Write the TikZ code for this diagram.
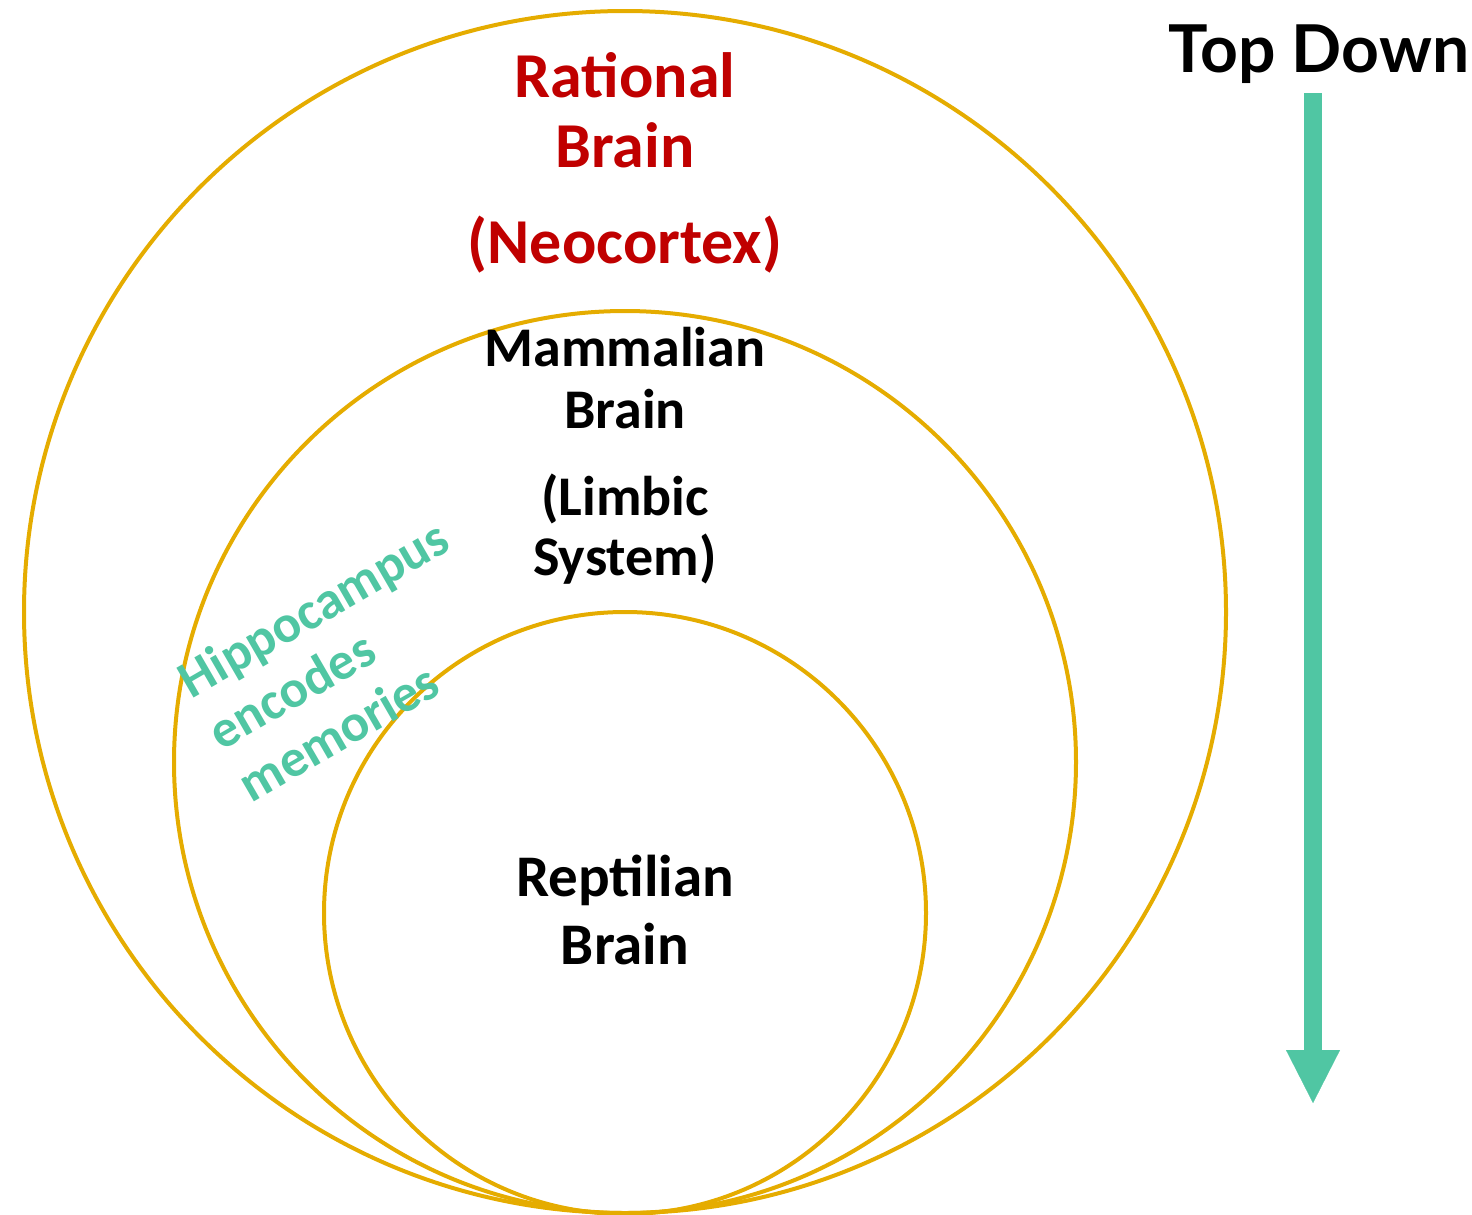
\documentclass[tikz,border=0pt]{standalone}
\usepackage{fontspec}
\setmainfont{Carlito}
\newfontfamily\headfont{Lato}
\usetikzlibrary{arrows.meta}
\definecolor{ringgold}{RGB}{229,172,0}
\definecolor{brainred}{RGB}{192,0,0}
\definecolor{hippogreen}{RGB}{80,198,163}
\tikzset{
  ring/.style={draw=ringgold, line width=2pt},
  braintext/.style={font=\bfseries, align=center, anchor=base, inner sep=0pt},
}
\begin{document}
\begin{tikzpicture}[x=0.5pt, y=-0.5pt]
  \useasboundingbox (0,0) rectangle (1472,1215);
  % the three brains
  \draw[ring] (625,612) circle (601);
  \draw[ring] (625,762) circle (451);
  \draw[ring] (625,913) circle (301);
  \node[braintext, text=brainred, font=\bfseries\fontsize{32}{35}\selectfont] (rational) at (625,167) {Rational\\Brain};
  \node[braintext, text=brainred, font=\bfseries\fontsize{32}{36}\selectfont] (neocortex) at (625,263) {(Neocortex)};
  \node[braintext, font=\bfseries\fontsize{28}{31}\selectfont] (mammalian) at (625,428) {Mammalian\\Brain};
  \node[braintext, font=\bfseries\fontsize{28}{30}\selectfont] (limbic) at (625,575) {(Limbic\\System)};
  \node[braintext, font=\bfseries\fontsize{29.5}{34}\selectfont] (reptilian) at (625,964) {Reptilian\\Brain};
  \node[braintext, anchor=center, align=left, rotate=30, text=hippogreen,
    font=\bfseries\fontsize{26.5}{30}\selectfont] (hippo) at (343,660) {Hippocampus\\encodes\\memories};
  % top down arrow
  \node[braintext, font=\headfont\bfseries\fontsize{33}{36}\selectfont] (topdown) at (1319,72) {Top Down};
  \coordinate (arrowtop) at (1313,93);
  \coordinate (arrowtip) at (1313,1103);
  \draw[hippogreen, line width=9pt, -{Triangle[width=27pt, length=26.5pt, line width=0.1pt]}] (arrowtop) -- (arrowtip);
\end{tikzpicture}
\end{document}
